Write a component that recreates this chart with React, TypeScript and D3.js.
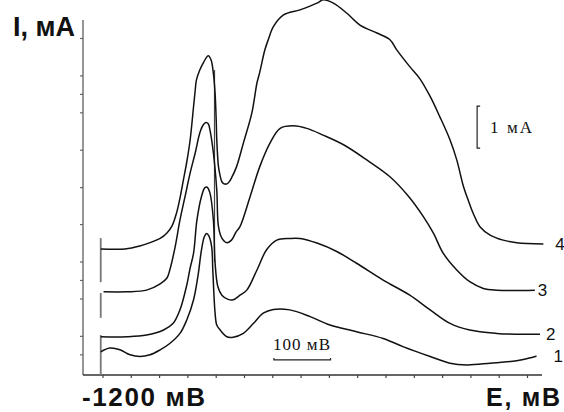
import * as d3 from "d3";

// potential E, mV and current I, mA
const curve1: [number, number][] = [
  [-1204, 0.55], [-1188, 0.64], [-1170, 0.6], [-1152, 0.48], [-1135, 0.44], [-1117, 0.48],
  [-1099, 0.6], [-1082, 0.75], [-1064, 0.99], [-1052, 1.31], [-1040, 1.79], [-1032, 2.38],
  [-1026, 2.98], [-1021, 3.29], [-1017, 3.37], [-1013, 3.31], [-1008, 3.05], [-1006, 2.5],
  [-1002, 1.48], [-999, 1.19], [-993, 1.07], [-981, 0.91], [-970, 0.9], [-952, 0.99],
  [-934, 1.23], [-917, 1.47], [-899, 1.56], [-870, 1.55], [-834, 1.39], [-799, 1.19],
  [-752, 1.03], [-705, 0.87], [-669, 0.67], [-622, 0.44], [-587, 0.28], [-557, 0.24],
  [-516, 0.28], [-469, 0.34], [-434, 0.45],
];
const curve2: [number, number][] = [
  [-1204, 0.91], [-1158, 0.91], [-1123, 0.95], [-1093, 1.07], [-1076, 1.23], [-1064, 1.55],
  [-1052, 2.14], [-1046, 2.55], [-1040, 2.9], [-1034, 3.69], [-1026, 4.25], [-1020, 4.46],
  [-1016, 4.47], [-1011, 4.33], [-1005, 3.69], [-1002, 2.67], [-997, 2.1], [-990, 1.9],
  [-979, 1.8], [-970, 1.79], [-958, 1.9], [-946, 2.02], [-928, 2.5], [-911, 2.98],
  [-893, 3.21], [-870, 3.25], [-852, 3.25], [-822, 3.14], [-787, 2.94], [-752, 2.66],
  [-705, 2.26], [-658, 1.9], [-622, 1.55], [-587, 1.23], [-552, 1.07], [-504, 0.99],
  [-469, 0.97], [-428, 0.97],
];
const curve3: [number, number][] = [
  [-1199, 1.98], [-1158, 1.98], [-1123, 2.02], [-1099, 2.17], [-1087, 2.31], [-1082, 2.5],
  [-1073, 3.02], [-1064, 3.69], [-1055, 4.25], [-1046, 4.81], [-1037, 5.29], [-1029, 5.76],
  [-1023, 5.95], [-1018, 6.01], [-1014, 5.98], [-1011, 5.83], [-1005, 5.29], [-999, 4.4],
  [-996, 3.53], [-990, 3.26], [-981, 3.15], [-973, 3.21], [-965, 3.4], [-958, 3.53],
  [-940, 4.25], [-923, 4.96], [-905, 5.52], [-887, 5.87], [-864, 5.93], [-840, 5.87],
  [-811, 5.71], [-775, 5.48], [-734, 5.12], [-693, 4.72], [-660, 4.25],
  [-634, 3.77], [-616, 3.37], [-599, 2.9], [-575, 2.5], [-552, 2.22], [-528, 2.06],
  [-504, 2.02], [-437, 2.02],
];
const curve4: [number, number][] = [
  [-1204, 3.0], [-1161, 3.0], [-1135, 3.07], [-1117, 3.15], [-1099, 3.25], [-1087, 3.38],
  [-1078, 3.55], [-1070, 3.86], [-1064, 4.21], [-1058, 4.64], [-1052, 5.07], [-1046, 5.6],
  [-1040, 6.39], [-1037, 6.79], [-1035, 7.02], [-1029, 7.26], [-1022, 7.45], [-1014, 7.6],
  [-1009, 7.5], [-1005, 7.18], [-1002, 6.71], [-1000, 6.07], [-999, 5.6], [-996, 4.96],
  [-993, 4.74], [-990, 4.6], [-986, 4.55], [-981, 4.55], [-977, 4.6], [-973, 4.69],
  [-964, 4.96], [-952, 5.52], [-937, 6.24], [-928, 6.95], [-923, 7.21], [-914, 7.74],
  [-908, 7.98], [-899, 8.29], [-881, 8.57], [-852, 8.69], [-822, 8.85], [-811, 8.93],
  [-793, 8.85], [-769, 8.61], [-746, 8.33], [-716, 8.14], [-693, 7.98], [-681, 7.74],
  [-658, 7.34], [-640, 7.05], [-622, 6.63], [-605, 6.15], [-587, 5.6], [-575, 5.12],
  [-563, 4.48], [-555, 4.17], [-546, 3.85], [-534, 3.53], [-516, 3.33], [-493, 3.21],
  [-469, 3.15], [-422, 3.12],
];

const curves = [curve1, curve2, curve3, curve4];
const curveNames = ["1", "2", "3", "4"];
// vertical start markers at the beginning of the sweep, [I top, I bottom]
const startMarks: [number, number][] = [[0.95, 0], [1.95, 1.36], [3.26, 2.21]];
const startE = -1204;

const yTicks = [0.48, 0.92, 1.81, 2.25, 2.69, 3.58, 4.46, 5.35, 6.24, 6.68, 7.12, 8.01];
const xTicks = d3.range(-1200, -449, 50);

export default function App() {
  const W = 564, H = 412;
  const x = d3.scaleLinear().domain([-1200, -450]).range([103, 527.5]);
  const y = d3.scaleLinear().domain([0, 8.45]).range([375, 20]);
  const xEnd = x.invert(542), xStart = x.invert(83);

  const line = d3.line<[number, number]>()
    .x(d => x(d[0]))
    .y(d => y(d[1]))
    .curve(d3.curveCatmullRom.alpha(0.5));

  const sans = "'Liberation Sans', Arial, sans-serif";
  const serif = "'Liberation Serif', 'Times New Roman', serif";
  // horizontal gap between each curve end and its number
  const labelDx = [17, 6, 3, 12];

  return (
    <svg width={W} height={H} style={{ position: "absolute", left: 0, top: 0, background: "#fff" }}>
      {/* y axis */}
      <line x1={x(xStart)} x2={x(xStart)} y1={y(8.45)} y2={y(0)} stroke="#8a8a8a" strokeWidth={1.8} />
      {yTicks.map(t => (
        <line key={t} x1={x(xStart) - 3} x2={x(xStart)} y1={y(t)} y2={y(t)} stroke="#666" strokeWidth={1.2} />
      ))}
      {/* x axis */}
      <line x1={x(xStart)} x2={x(xEnd)} y1={y(0)} y2={y(0)} stroke="#333" strokeWidth={1.5} />
      {xTicks.map(t => (
        <line key={t} x1={x(t)} x2={x(t)} y1={y(0)} y2={y(0) + 3} stroke="#444" strokeWidth={1.2} />
      ))}

      {/* start markers */}
      {startMarks.map((m, i) => (
        <line key={i} x1={x(startE)} x2={x(startE)} y1={y(m[0])} y2={y(m[1])} stroke="#777" strokeWidth={1.8} />
      ))}
      {/* straight vertical trace line */}
      <line x1={x(-1003)} x2={x(-1003)} y1={y(7.26)} y2={y(2.69)} stroke="#444" strokeWidth={1.2} />

      {curves.map((c, i) => (
        <path key={i} d={line(c) ?? ""} fill="none" stroke="#111" strokeWidth={1.5} strokeLinejoin="round" />
      ))}

      {curves.map((c, i) => {
        const last = c[c.length - 1];
        return (
          <text key={i} x={x(last[0]) + labelDx[i]} y={y(last[1]) + 6} fontFamily={sans} fontSize={17} fill="#111">
            {curveNames[i]}
          </text>
        );
      })}

      {/* 1 mA scale bar */}
      <path d={`M${x(-539) + 3},${y(6.4)}H${x(-539)}V${y(5.4)}H${x(-539) + 3}`} fill="none" stroke="#222" strokeWidth={1.2} />
      <text x={490} y={133} fontFamily={serif} fontSize={17} textLength={42} fill="#111">1 мА</text>

      {/* 100 mV scale bar */}
      <path d={`M${x(-898)},${y(0.36) - 2}V${y(0.36)}H${x(-798)}V${y(0.36) - 2}`} fill="none" stroke="#222" strokeWidth={1.2} />
      <text x={273} y={350} fontFamily={serif} fontSize={17} textLength={57} fill="#111">100 мВ</text>

      <text x={13} y={36} fontFamily={sans} fontWeight="bold" fontSize={27} textLength={62} fill="#111">I, мА</text>
      <text x={82} y={406} fontFamily={sans} fontWeight="bold" fontSize={26} textLength={123} fill="#111">-1200 мВ</text>
      <text x={486} y={406} fontFamily={sans} fontWeight="bold" fontSize={25} textLength={74} fill="#111">E, мВ</text>
    </svg>
  );
}
